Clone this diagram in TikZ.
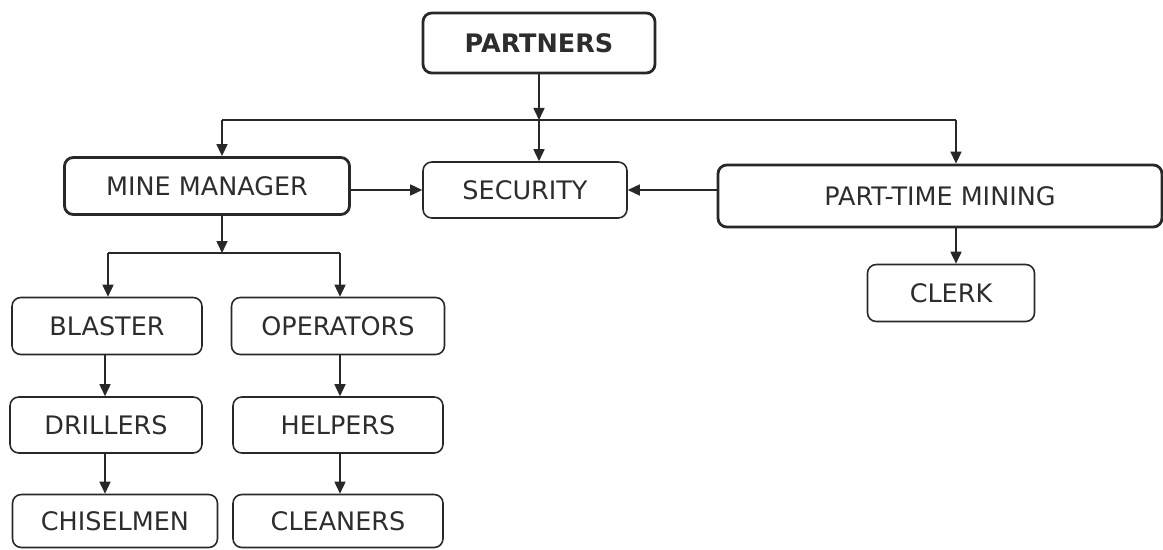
\documentclass[tikz,border=0pt]{standalone}
\usepackage{fontspec}
\setmainfont{DejaVu Sans}
\usepackage{tikz}
\usetikzlibrary{arrows.meta,positioning,calc}
\definecolor{ocLine}{RGB}{40,40,40}
\definecolor{ocText}{RGB}{45,45,45}

\begin{document}
\begin{tikzpicture}[
  font=\fontsize{14.5}{17}\selectfont,
  box/.style={draw=ocLine, line width=0.9pt, rounded corners=5pt, text=ocText,
              minimum height=1.14cm, inner sep=2pt, align=center},
  head/.style={box, line width=1.6pt},
  ar/.style={-{Triangle[length=2.4mm, width=2.2mm]}, draw=ocLine, line width=0.9pt},
  ln/.style={draw=ocLine, line width=0.9pt}
]
\useasboundingbox (0,0) rectangle (23.26,-11);

\node[head, minimum width=4.64cm, minimum height=1.2cm, font=\fontsize{14.5}{17}\selectfont\bfseries] (partners) at (10.78,-0.86) {PARTNERS};

\node[head, minimum width=5.7cm] (mgr) at (4.14,-3.72) {MINE MANAGER};
\node[box, minimum width=4.08cm, minimum height=1.12cm] (sec) at (10.5,-3.8) {SECURITY};
\node[head, minimum width=8.88cm, minimum height=1.24cm] (ptm) at (18.8,-3.92) {PART-TIME MINING};
\node[box, minimum width=3.34cm] (clerk) at (19.02,-5.86) {CLERK};

\node[box, minimum width=3.8cm] (blaster) at (2.14,-6.52) {BLASTER};
\node[box, minimum width=4.26cm] (oper) at (6.76,-6.52) {OPERATORS};
\node[box, minimum width=3.84cm, minimum height=1.12cm] (drill) at (2.12,-8.5) {DRILLERS};
\node[box, minimum width=4.2cm, minimum height=1.12cm] (help) at (6.76,-8.5) {HELPERS};
\node[box, minimum width=4.1cm, minimum height=1.06cm] (chisel) at (2.3,-10.42) {CHISELMEN};
\node[box, minimum width=4.2cm, minimum height=1.06cm] (clean) at (6.76,-10.42) {CLEANERS};

% top branch
\coordinate (topj) at (10.78,-2.4);
\coordinate (topl) at (4.44,-2.4);
\coordinate (topr) at (19.12,-2.4);
\draw[ar] (partners) -- (topj);
\draw[ln] (topl) -- (topr);
\draw[ar] (topj) -- (topj |- sec.north);
\draw[ar] (topl) -- (topl |- mgr.north);
\draw[ar] (topr) -- (topr |- ptm.north);

% into security
\draw[ar] (mgr.east |- 0,-3.8) -- (sec.west);
\draw[ar] (ptm.west |- 0,-3.8) -- (sec.east);
\draw[ar] (topr |- ptm.south) -- (topr |- clerk.north);

% mine manager branch
\coordinate (mgrj) at (4.44,-5.06);
\coordinate (mgrl) at (2.16,-5.06);
\coordinate (mgrr) at (6.8,-5.06);
\draw[ar] (mgr.south -| mgrj) -- (mgrj);
\draw[ln] (mgrl) -- (mgrr);
\draw[ar] (mgrl) -- (mgrl |- blaster.north);
\draw[ar] (mgrr) -- (mgrr |- oper.north);

\foreach \a/\b in {blaster/drill, drill/chisel}
  \draw[ar] (2.1,0 |- \a.south) -- (2.1,0 |- \b.north);
\foreach \a/\b in {oper/help, help/clean}
  \draw[ar] (6.8,0 |- \a.south) -- (6.8,0 |- \b.north);

\end{tikzpicture}
\end{document}
